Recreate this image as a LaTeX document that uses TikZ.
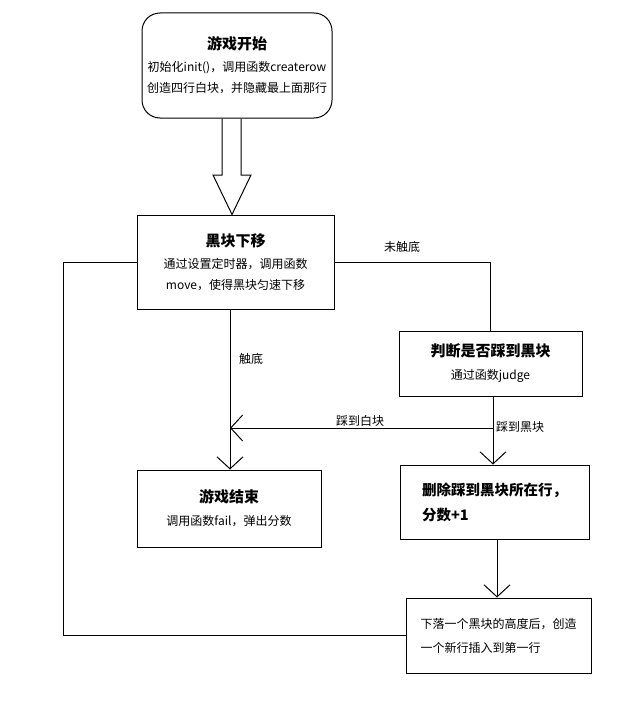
\documentclass[tikz,border=0pt]{standalone}
\usepackage{fontspec}
\setmainfont{Noto Sans CJK SC}
\usepackage{tikz}
\usetikzlibrary{arrows.meta}

\begin{document}
\begin{tikzpicture}[x=1pt,y=-1pt,line width=1pt]
\tikzstyle{every node}+=[inner sep=0pt]
\tikzstyle{box}=[draw=black,rectangle,align=center,font=\fontsize{12}{21}\selectfont]
\tikzstyle{title}=[font=\fontsize{15}{18}\selectfont\bfseries]
\tikzstyle{arr}=[-{Straight Barb[length=12pt,width=26pt]}]
\tikzstyle{lbl}=[font=\fontsize{12}{14}\selectfont]
\useasboundingbox (0,0) rectangle (631,717);
\node [box,rounded corners=18pt,minimum width=190pt,minimum height=105pt] (start) at (237,65.5)
  {{\fontsize{15}{18}\selectfont\bfseries 游戏开始}\\[1pt]初始化init()，调用函数createrow\\创造四行白块，并隐藏最上面那行};
\node [box,minimum width=197pt,minimum height=94pt] (move) at (235.5,262)
  {{\fontsize{15}{18}\selectfont\bfseries 黑块下移}\\[1pt]通过设置定时器，调用函数\\move，使得黑块匀速下移};
\node [box,minimum width=183pt,minimum height=65pt] (judge) at (490.5,363.5)
  {{\fontsize{15}{18}\selectfont\bfseries 判断是否踩到黑块}\\[2pt]通过函数judge};
\node [box,minimum width=184pt,minimum height=77pt] (fail) at (229,508.5)
  {{\fontsize{15}{18}\selectfont\bfseries 游戏结束}\\[2pt]调用函数fail，弹出分数};
\node [box,align=left,minimum width=189pt,minimum height=74pt,font=\fontsize{14.5}{25}\selectfont\bfseries] (del) at (494.5,502)
  {删除踩到黑块所在行，\\分数+1};
\node [box,align=left,minimum width=185pt,minimum height=75pt,font=\fontsize{12}{24}\selectfont] (newrow) at (498.5,635.5)
  {下落一个黑块的高度后，创造\\一个新行插入到第一行};
\draw (222,0 |- start.south) -- (222,175) -- (213,175) -- (232,0 |- move.north)
  -- (251,175) -- (241,175) -- (241,0 |- start.south);
\draw [arr] (230,0 |- move.south) -- (230,0 |- fail.north);
\node [lbl] (touch) at (251,359) {触底};
\draw (move.east) -| (judge.north);
\node [lbl] (notouch) at (402,247) {未触底};
\coordinate (fork) at (493,428);
\draw [arr] (493,0 |- judge.south) -- (493,0 |- del.north);
\node [lbl] (black) at (520,427) {踩到黑块};
\draw [arr] (fork) -- (230,428);
\node [lbl] (white) at (360,421) {踩到白块};
\draw [arr] (497,0 |- del.south) -- (497,0 |- newrow.north);
\draw (newrow.west) -- (63,0 |- newrow.west) -- (63,0 |- move.west) -- (move.west);
\end{tikzpicture}
\end{document}
